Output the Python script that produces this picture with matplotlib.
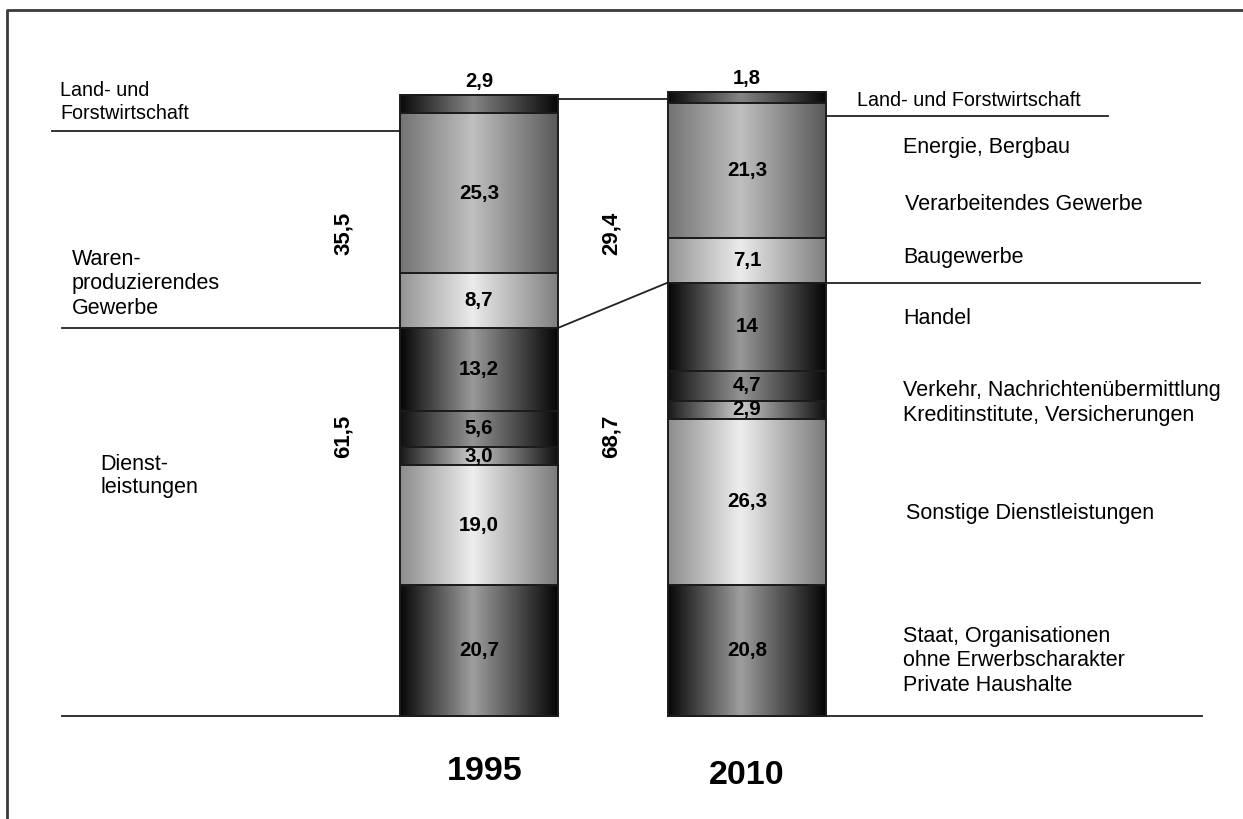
import numpy as np
import matplotlib
matplotlib.use("Agg")
import matplotlib.pyplot as plt
from matplotlib.patches import Rectangle

plt.rcParams['font.family'] = ['Liberation Sans', 'DejaVu Sans']

# data, bottom to top
years = ['1995', '2010']
values_1995 = [20.7, 19.0, 3.0, 5.6, 13.2, 8.7, 25.3, 2.9]
values_2010 = [20.8, 26.3, 2.9, 4.7, 14, 7.1, 21.3, 1.8]
labels_1995 = ['20,7', '19,0', '3,0', '5,6', '13,2', '8,7', '25,3', '2,9']
labels_2010 = ['20,8', '26,3', '2,9', '4,7', '14', '7,1', '21,3', '1,8']
totals_1995 = ['61,5', '35,5']   # Dienstleistungen, Warenproduzierendes Gewerbe
totals_2010 = ['68,7', '29,4']
left_labels = ['Land- und\nForstwirtschaft', 'Waren-\nproduzierendes\nGewerbe',
               'Dienst-\nleistungen']
right_labels = ['Land- und Forstwirtschaft', 'Energie, Bergbau', 'Verarbeitendes Gewerbe',
                'Baugewerbe', 'Handel',
                'Verkehr, Nachrichtenübermittlung\nKreditinstitute, Versicherungen',
                'Sonstige Dienstleistungen',
                'Staat, Organisationen\nohne Erwerbscharakter\nPrivate Haushalte']

# shading per segment: (left edge, centre, right edge) gray level
shades = [(0.03, 0.62, 0.02), (0.55, 0.93, 0.48), (0.10, 0.80, 0.06), (0.06, 0.58, 0.03),
          (0.02, 0.60, 0.02), (0.58, 0.92, 0.50), (0.45, 0.75, 0.35), (0.04, 0.52, 0.03)]

W, H = 1243, 819
fig = plt.figure(figsize=(W / 100, H / 100), dpi=100)
ax = fig.add_axes([0, 0, 1, 1])
ax.set_axis_off()

# pixel layout -> data
x0px, gap_px, base_px, scale = 479, 268, 716, 6.31
ax.set_xlim(-x0px / gap_px, (W - x0px) / gap_px)
ax.set_ylim(-(H - base_px) / scale, base_px / scale)


def X(px):
    return (px - x0px) / gap_px


def Y(py):
    return (base_px - py) / scale


width = 158 / gap_px
t = np.linspace(0, 1, 300)
c = 0.46


def gradient(left, mid, right):
    return np.where(t < c, left + (mid - left) * t / c,
                    right + (mid - right) * (1 - t) / (1 - c))


def draw_bar(xc, vals, labels):
    bottom = 0
    xl = xc - width / 2
    for i, (v, lab) in enumerate(zip(vals, labels)):
        row = gradient(*shades[i])[None, :]
        ax.imshow(row, cmap='gray', vmin=0, vmax=1, aspect='auto', interpolation='bilinear',
                  extent=[xl, xl + width, bottom, bottom + v], zorder=2)
        ax.add_patch(Rectangle((xl, bottom), width, v, fill=False, ec='#1c1c1c', lw=1.4,
                               zorder=3))
        if i == len(vals) - 1:
            ax.text(xc, bottom + v + 0.6, lab, ha='center', va='bottom', fontsize=14.5,
                    fontweight='bold', zorder=4)
        else:
            ax.text(xc, bottom + v / 2, lab, ha='center', va='center', fontsize=14.8,
                    fontweight='bold', zorder=4)
        bottom += v
    return np.cumsum(vals)


cum95 = draw_bar(0, values_1995, labels_1995)
cum10 = draw_bar(1, values_2010, labels_2010)

ln = dict(color='#222222', lw=1.3, zorder=1)
# baselines
ax.plot([X(62), width / 2], [0, 0], **ln)
ax.plot([1 - width / 2, X(1202)], [0, 0], **ln)
# connectors between the bars
ax.plot([width / 2, 1 - width / 2], [Y(99), Y(99)], **ln)
ax.plot([width / 2, 1 - width / 2], [cum95[4], cum10[4]], **ln)
# guide lines
ax.plot([X(52), -width / 2], [Y(131), Y(131)], **ln)
ax.plot([X(62), -width / 2], [cum95[4], cum95[4]], **ln)
ax.plot([1 + width / 2, X(1108)], [Y(116), Y(116)], **ln)
ax.plot([1 + width / 2, X(1200)], [cum10[4], cum10[4]], **ln)

# frame
ax.plot([X(7), X(7), X(W + 5)], [Y(H + 5), Y(10), Y(10)], color='#3a3a3a', lw=2, zorder=1)

# group totals (rotated)
for xp, tots in [(343, totals_1995), (611, totals_2010)]:
    ax.text(X(xp), Y(436), tots[0], rotation=90, ha='center', va='center', fontsize=16,
            fontweight='bold')
    ax.text(X(xp), Y(233), tots[1], rotation=90, ha='center', va='center', fontsize=16,
            fontweight='bold')

# left labels
left_pos = [(60, 102, 14.2, 1.27), (72, 284, 15.5, 1.2), (100, 476, 15.5, 1.15)]
for (xp, yp, fs, ls), lab in zip(left_pos, left_labels):
    ax.text(X(xp), Y(yp), lab, ha='left', va='center', fontsize=fs, linespacing=ls)

# right labels
right_pos = [(857, 100), (903, 148), (905, 204), (903, 258), (903, 319), (903, 403),
             (906, 514), (903, 661)]
for i, ((xp, yp), lab) in enumerate(zip(right_pos, right_labels)):
    fs = 14.2 if i == 0 else 15.5
    ax.text(X(xp), Y(yp), lab, ha='left', va='center', fontsize=fs, linespacing=1.22)

# years
for xc, yp, yr in [(0.02, 772, years[0]), (1.0, 776, years[1])]:
    ax.text(xc, Y(yp), yr, ha='center', va='center', fontsize=24.5, fontweight='bold')

fig.savefig('out.png', dpi=100, facecolor='white')
